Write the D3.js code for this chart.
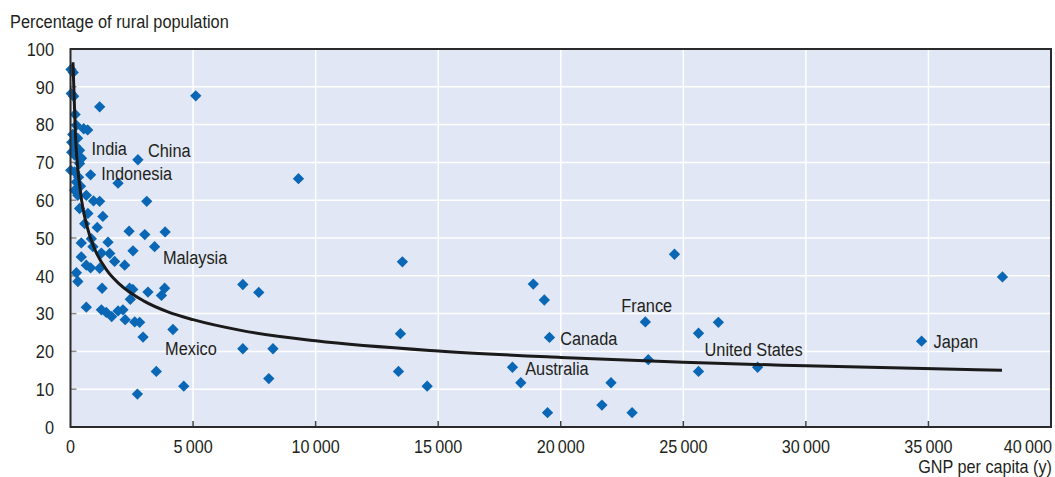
<!DOCTYPE html>
<html>
<head>
<meta charset="utf-8">
<script src="https://cdn.jsdelivr.net/npm/d3@7"></script>
<style>
  html, body { margin: 0; padding: 0; background: #fff; }
  svg { display: block; }
  text { font-family: "Liberation Sans", Arial, sans-serif; fill: #231f20; }
</style>
</head>
<body>
<svg id="chart" width="1055" height="477"></svg>
<script>
// GNP per capita and rural share of population, one entry per country
const gnpPerCapita = [
  20, 110, 30, 130, 1190, 190, 240, 540, 700,
  90, 290, 50, 210, 370, 50, 170, 450, 370, 10, 170, 820, 240, 330, 170, 410,
  2750, 1940,
  300, 645, 940, 1190, 3110, 370, 710, 1320, 580, 1090, 2390, 3030, 3860,
  440, 850, 915, 1530, 3430, 2550, 1260, 1600, 440, 1800, 2210, 645, 820, 1190,
  240, 300, 1290, 2410, 2540, 3160, 3840, 3710, 2440,
  645, 1260, 1460, 1680, 1940, 2140, 2230, 2620, 2820, 2960, 4180,
  3500, 4620, 2730,
  5110, 9300, 7030, 7680, 7030, 8260, 8090,
  13540, 13460, 13380, 14550,
  18880, 19330, 19540, 18030, 18370, 22050, 21680, 19460, 22910,
  24640, 23450, 23570, 25620, 26430, 25620, 28030, 34720, 38020
];
const ruralShare = [
  94.6, 93.8, 88.2, 87.5, 84.7, 82.7, 79.8, 78.9, 78.6,
  77.4, 76.4, 75.3, 74.3, 73.2, 72.7, 71.9, 71.1, 69.7, 67.9, 67.5, 66.7, 64.8, 66.1, 62.6, 63.7,
  70.7, 64.5,
  61.3, 61.3, 59.8, 59.7, 59.7, 57.8, 56.5, 55.7, 53.8, 52.8, 51.8, 50.9, 51.6,
  48.7, 49.8, 47.7, 48.9, 47.7, 46.6, 46.0, 45.9, 45.0, 43.8, 42.8, 42.8, 42.1, 42.0,
  40.8, 38.5, 36.7, 36.7, 36.4, 35.7, 36.7, 34.8, 33.8,
  31.7, 31.0, 30.3, 29.2, 30.7, 31.0, 28.4, 27.8, 27.7, 23.8, 25.8,
  14.7, 10.8, 8.7,
  87.6, 65.7, 37.7, 35.6, 20.7, 20.7, 12.8,
  43.7, 24.7, 14.7, 10.8,
  37.8, 33.6, 23.7, 15.8, 11.7, 11.7, 5.8, 3.8, 3.8,
  45.7, 27.8, 17.8, 24.8, 27.7, 14.7, 15.8, 22.7, 39.7
];

// Fitted trend through the cloud
const trendGnp   = [100, 200, 400, 700, 1000, 1500, 2000, 3000, 4000, 5000, 7000, 10000, 15000, 20000, 25000, 30000, 38000];
const trendRural = [96.5, 77.7, 62.6, 52.5, 46.9, 41.3, 37.8, 33.3, 30.4, 28.4, 25.5, 22.8, 20.1, 18.4, 17.1, 16.2, 15.0];

// Named countries (anchor values of their markers)
const labelNames = ["India", "China", "Indonesia", "Malaysia", "Mexico", "Australia", "Canada", "France", "United States", "Japan"];
const labelGnp   = [450, 2750, 820, 3430, 2960, 18030, 19540, 23450, 28030, 34720];
const labelRural = [71.1, 70.7, 66.7, 47.7, 23.8, 15.8, 23.7, 27.8, 15.8, 22.7];

// Axis ticks
const xTicks = [0, 5000, 10000, 15000, 20000, 25000, 30000, 35000, 40000];
const yTicks = [0, 10, 20, 30, 40, 50, 60, 70, 80, 90, 100];

const svg = d3.select("#chart");
const plotLeft = 70.5, plotRight = 1051, plotTop = 49, plotBottom = 427;
const fontSize = 19, squeeze = 0.86;        // condensed type
const xFontSize = 18, xSqueeze = 0.9;       // slightly smaller type under the x axis

const x = d3.scaleLinear().domain([0, 40000]).range([plotLeft, plotRight]);
const y = d3.scaleLinear().domain([0, 100]).range([plotBottom, plotTop]);

const fmt = v => v === 0 ? "0" : d3.format(",")(v).replace(/,/g, "\u2009");
const at = (px, py, k = squeeze) => `translate(${px},${py}) scale(${k},1)`;

// plot background
svg.append("rect")
  .attr("x", plotLeft).attr("y", plotTop)
  .attr("width", plotRight - plotLeft).attr("height", plotBottom - plotTop)
  .attr("fill", "#e1e7f4");

// gridlines
svg.append("g").selectAll("line").data(yTicks.slice(1, -1)).join("line")
  .attr("x1", plotLeft).attr("x2", plotRight)
  .attr("y1", d => y(d)).attr("y2", d => y(d))
  .attr("stroke", "#fff").attr("stroke-width", 1.5);
svg.append("g").selectAll("line").data(xTicks.slice(1, -1)).join("line")
  .attr("y1", plotTop).attr("y2", plotBottom)
  .attr("x1", d => x(d)).attr("x2", d => x(d))
  .attr("stroke", "#fff").attr("stroke-width", 1.5);

// inner tick marks
svg.append("g").selectAll("line").data(yTicks.slice(1, -1)).join("line")
  .attr("x1", plotLeft).attr("x2", plotLeft + 6)
  .attr("y1", d => y(d)).attr("y2", d => y(d))
  .attr("stroke", "#8a8a8a").attr("stroke-width", 1.5);
svg.append("g").selectAll("line").data(xTicks.slice(1, -1)).join("line")
  .attr("y1", plotBottom).attr("y2", plotBottom - 6)
  .attr("x1", d => x(d)).attr("x2", d => x(d))
  .attr("stroke", "#444").attr("stroke-width", 1.5);

// tick labels
svg.append("g").selectAll("text").data(yTicks).join("text")
  .attr("transform", d => at(54, y(d)))
  .attr("dy", "0.36em")
  .attr("text-anchor", "end")
  .attr("font-size", fontSize)
  .text(fmt);
svg.append("g").selectAll("text").data(xTicks).join("text")
  .attr("transform", d => at(d === 40000 ? 1052 : x(d), 452.5, xSqueeze))
  .attr("text-anchor", d => d === 40000 ? "end" : "middle")
  .attr("font-size", xFontSize)
  .text(fmt);

// axis titles
svg.append("text").attr("transform", at(10, 28)).attr("font-size", fontSize)
  .text("Percentage of rural population");
svg.append("text").attr("transform", at(1052, 472.5, xSqueeze)).attr("text-anchor", "end").attr("font-size", xFontSize)
  .text("GNP per capita (y)");

// scatter markers (diamonds)
const pts = gnpPerCapita.map((g, i) => [g, ruralShare[i]]);
const diamond = d3.symbol().type(d3.symbolSquare).size(64);
svg.append("g").selectAll("path").data(pts).join("path")
  .attr("d", diamond)
  .attr("transform", d => `translate(${x(d[0])},${y(d[1])}) rotate(45)`)
  .attr("fill", "#0a67b5");

// trend curve
const line = d3.line().x(d => x(d[0])).y(d => y(d[1])).curve(d3.curveMonotoneX);
svg.append("path")
  .datum(trendGnp.map((g, i) => [g, trendRural[i]]))
  .attr("d", line)
  .attr("fill", "none").attr("stroke", "#1a1a1a").attr("stroke-width", 3);

// country labels, nudged off their markers
const nudge = {
  "India": [10, -3], "China": [10, -2.6], "Indonesia": [10.7, 5.5], "Malaysia": [8.3, 17.5],
  "Mexico": [22, 18.3], "Australia": [12.7, 8], "Canada": [10.7, 7.3], "France": [-24, -10],
  "United States": [-53, -11], "Japan": [12, 7]
};
svg.append("g").selectAll("text").data(labelNames).join("text")
  .attr("transform", (d, i) => at(x(labelGnp[i]) + nudge[d][0], y(labelRural[i]) + nudge[d][1]))
  .attr("font-size", fontSize)
  .text(d => d);

// frame
svg.append("rect")
  .attr("x", plotLeft).attr("y", plotTop)
  .attr("width", plotRight - plotLeft).attr("height", plotBottom - plotTop)
  .attr("fill", "none").attr("stroke", "#2a2a2a").attr("stroke-width", 2);
</script>
</body>
</html>
